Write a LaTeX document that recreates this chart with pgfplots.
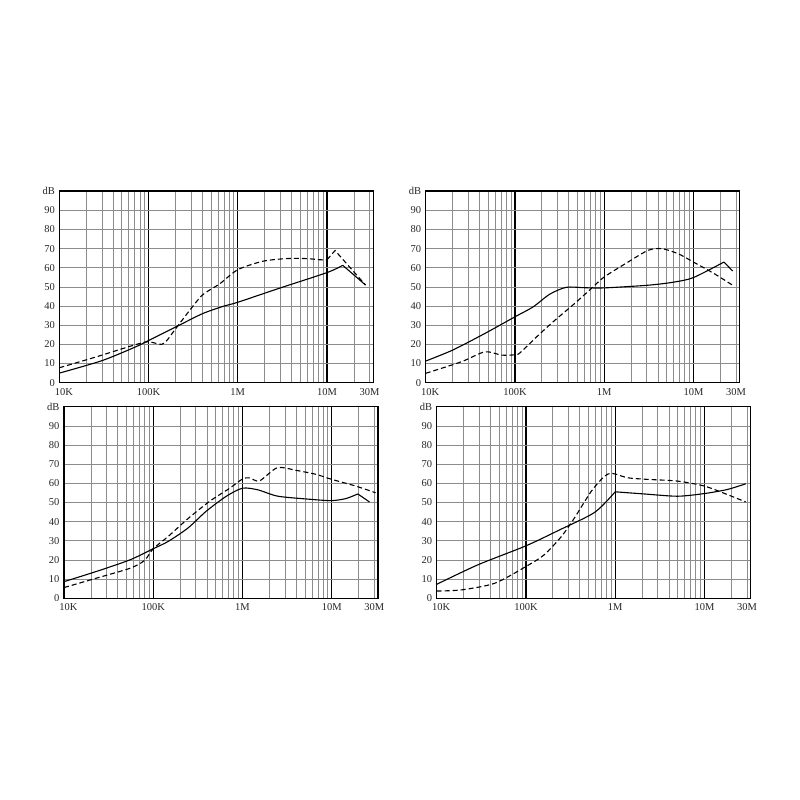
\documentclass[border=0pt]{standalone}
\usepackage{pgfplots}
\pgfplotsset{compat=1.18}
\usepackage{fontspec}
\setmainfont{Liberation Serif}

\pgfplotsset{
 emi/.style={
  scale only axis, width=314pt, height=191.5pt,
  xmin=1e4, xmax=3.3e7, ymin=0, ymax=100,
  xtick={1e5,1e6,1e7}, xticklabels={100K,1M,10M},
  extra x ticks={1e4,3e7}, extra x tick labels={\hspace{9pt}10K,30M},
  extra x tick style={grid=none},
  minor xtick={2e4,3e4,4e4,5e4,6e4,7e4,8e4,9e4,2e5,3e5,4e5,5e5,6e5,7e5,8e5,9e5,2e6,3e6,4e6,5e6,6e6,7e6,8e6,9e6,2e7,3e7},
  ytick={0,10,20,30,40,50,60,70,80,90,100},
  yticklabels={0,10,20,30,40,50,60,70,80,90,dB},
  minor ytick={10,20,30,40,50,60,70,80,90},
  xmajorgrids, xminorgrids, yminorgrids, ymajorgrids=false,
  major grid style={black, line width=1.1pt},
  minor grid style={black!45, line width=0.7pt},
  major tick length=0pt, minor tick length=0pt,
  axis line style={black, line width=1.4pt},
  tick label style={font=\fontsize{10.5}{12}\selectfont, text=black!85},
  xticklabel style={yshift=-2pt},
  yticklabel style={xshift=-1pt},
 },
 sol/.style={black, line width=1.1pt},
 das/.style={black, line width=1.1pt, dash pattern=on 5pt off 3pt},
 ssol/.style={sol, smooth, tension=0.45},
 sdas/.style={das, smooth, tension=0.45},
}

\begin{document}
\begin{tikzpicture}
\path[use as bounding box] (0,0) rectangle (800pt,800pt);

% Panel 1 (top-left)
\begin{semilogxaxis}[emi, at={(59.3pt,417.3pt)}, anchor=south west]
\addplot[ssol] coordinates {(1e4,5) (3e4,11.5) (7e4,18.5) (1e5,22) (2e5,29) (4e5,36) (7e5,40) (1e6,42) (3e6,49.5) (1e7,57.5) (1.5e7,61.3)};
\addplot[sol] coordinates {(1.5e7,61.3) (2.7e7,51)};
\addplot[sdas] coordinates {(1e4,7.8) (2.6e4,13.5) (6e4,18.8) (8e4,20.5) (1e5,21.4) (1.4e5,20) (1.6e5,22) (1.9e5,26.6) (2.7e5,36) (4e5,45.7) (6.3e5,51.7) (1e6,59) (1.9e6,63.4) (3.5e6,64.8) (5.9e6,64.8) (8.3e6,64.2) (1e7,64.2)};
\addplot[das] coordinates {(1e7,64.2) (1.23e7,69) (2.7e7,51)};
\end{semilogxaxis}

% Panel 2 (top-right)
\begin{semilogxaxis}[emi, at={(425.7pt,417.3pt)}, anchor=south west]
\addplot[ssol] coordinates {(1e4,11.3) (2e4,17) (4.6e4,25.7) (1e5,34.4) (1.6e5,39.6) (2.45e5,46.2) (3.75e5,49.8) (6e5,49.6) (1e6,49.5) (3.1e6,50.9) (6e6,52.5) (1e7,54.9) (2.2e7,63)};
\addplot[sol] coordinates {(2.2e7,63) (2.75e7,58.3)};
\addplot[sdas] coordinates {(1e4,4.9) (2.5e4,10.9) (4.6e4,16.1) (7.1e4,14.4) (1e5,14.6) (1.14e5,15.6) (1.83e5,24.8) (2.8e5,32.6) (4.65e5,41.3) (7.5e5,50) (1e6,55.2) (1.85e6,63) (3.1e6,69.1) (4.4e6,70) (6.7e6,67.4) (1e7,63) (1.7e7,57) (2.75e7,50.9)};
\end{semilogxaxis}

% Panel 3 (bottom-left)
\begin{semilogxaxis}[emi, at={(64pt,201.7pt)}, anchor=south west]
\addplot[ssol] coordinates {(1e4,8.7) (2.3e4,14) (5.5e4,20.1) (1e5,25.9) (1.47e5,29.7) (2.45e5,36.7) (3.93e5,45.5) (6.6e5,53.3) (1e6,57.5) (1.5e6,56.6) (2.5e6,53.3) (6.1e6,51.6) (1e7,51) (1.45e7,52.1) (1.96e7,54.5)};
\addplot[sol] coordinates {(1.96e7,54.5) (2.65e7,50.3)};
\addplot[sdas] coordinates {(1e4,5.6) (2.3e4,10.5) (5.5e4,15.7) (8e4,19.8) (1e5,25.9) (1.47e5,32.3) (2.45e5,41.6) (4.3e5,50.7) (7.1e5,57.3) (1e6,62.3) (1.2e6,62.9) (1.55e6,61.3) (2.46e6,68.2) (4e6,66.8) (6.7e6,64.7) (1e7,62.1) (1.86e7,58.6) (3.1e7,55.1)};
\end{semilogxaxis}

% Panel 4 (bottom-right)
\begin{semilogxaxis}[emi, at={(436.7pt,201.7pt)}, anchor=south west]
\addplot[ssol] coordinates {(1e4,7.3) (2.9e4,17.5) (1e5,27.4) (2.4e5,35.8) (5.9e5,44.9) (1e6,55.6)};
\addplot[ssol] coordinates {(1e6,55.6) (2.1e6,54.5) (5e6,53.3) (1e7,54.7) (1.8e7,56.8) (2.9e7,59.8)};
\addplot[sdas] coordinates {(1e4,3.8) (1.9e4,4.4) (4.5e4,7.9) (1e5,16.6) (1.6e5,22.7) (2.5e5,32.3) (3.5e5,42) (5.4e5,55.9) (7.6e5,63.8) (9e5,65.3) (1e6,64.9) (1.4e6,62.9) (2.3e6,62.1) (5e6,61.2) (1e7,58.6) (1.8e7,54.2) (2.9e7,50.3)};
\end{semilogxaxis}
\end{tikzpicture}
\end{document}
